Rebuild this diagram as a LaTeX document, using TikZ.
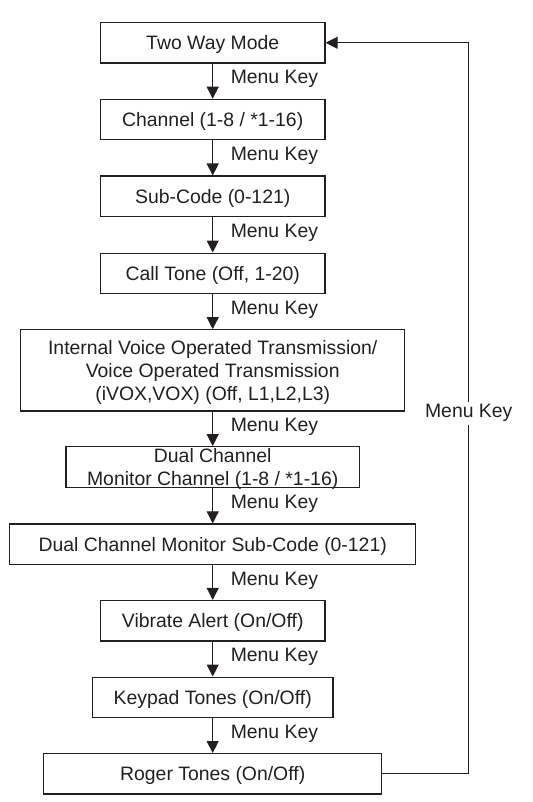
\documentclass[tikz,border=0pt]{standalone}
\usepackage{fontspec}
\setmainfont{Liberation Sans}
\usetikzlibrary{arrows.meta}
\definecolor{mkgray}{RGB}{35,31,32}
\newcommand{\topstrut}{\rule{0pt}{18.2pt}}
\tikzstyle{menubox} = [draw=mkgray, line width=1.2pt, text=mkgray, inner sep=0pt, minimum height=40.4pt, align=center, font=\fontsize{19.4}{23.4}\selectfont]
\tikzstyle{onebox} = [menubox, text height=18.2pt, text depth=4.1pt]
\tikzstyle{arrow} = [line width=1.1pt, draw=mkgray, -{Triangle[length=12pt,width=12pt]}]
\tikzstyle{keylabel} = [right=17.5pt, yshift=2pt, inner sep=0pt, text=mkgray, font=\fontsize{19.4}{23.4}\selectfont]

\begin{document}
\begin{tikzpicture}[x=1pt, y=-1pt]
\useasboundingbox (0,0) rectangle (532,802);

% Menu boxes
\node[onebox, minimum width=224.7pt] (twoway) at (212.7,42.8) {Two Way Mode};
\node[onebox, minimum width=224.7pt] (channel) at (212.7,119.5) {Channel (1-8 / *1-16)};
\node[onebox, minimum width=224.7pt] (subcode) at (212.7,196.3) {Sub-Code (0-121)};
\node[onebox, minimum width=224.7pt] (calltone) at (212.7,273.3) {Call Tone (Off, 1-20)};
\node[menubox, minimum width=384pt, minimum height=81.3pt] (vox) at (212.7,370.4)
  {\topstrut Internal Voice Operated Transmission/\\Voice Operated Transmission\\(iVOX,VOX) (Off, L1,L2,L3)};
% text runs over the frame here, so it goes in as a label
\node[menubox, minimum width=293.3pt, minimum height=40.6pt,
  label={[name=dualtext, yshift=-2pt, inner sep=0pt, align=center, text=mkgray, font=\fontsize{19.4}{23.4}\selectfont]center:Dual Channel\\Monitor Channel (1-8 / *1-16)}] (dualch) at (212.7,467) {};
\node[onebox, minimum width=406.3pt] (dualsub) at (212.7,544.2) {Dual Channel Monitor Sub-Code (0-121)};
\node[onebox, minimum width=224.7pt] (vibrate) at (212.7,620.7) {Vibrate Alert (On/Off)};
\node[onebox, minimum width=240.7pt] (keypad) at (212.7,697.3) {Keypad Tones (On/Off)};
\node[onebox, minimum width=338.3pt] (roger) at (212.7,773.8) {Roger Tones (On/Off)};

% Menu Key steps
\draw[arrow] (twoway) -- node[keylabel] {Menu Key} (channel);
\draw[arrow] (channel) -- node[keylabel] {Menu Key} (subcode);
\draw[arrow] (subcode) -- node[keylabel] {Menu Key} (calltone);
\draw[arrow] (calltone) -- node[keylabel] {Menu Key} (vox);
\draw[arrow] (vox) -- node[keylabel] {Menu Key} (dualch);
\draw[arrow] (dualch) -- node[keylabel] {Menu Key} (dualsub);
\draw[arrow] (dualsub) -- node[keylabel] {Menu Key} (vibrate);
\draw[arrow] (vibrate) -- node[keylabel] {Menu Key} (keypad);
\draw[arrow] (keypad) -- node[keylabel] {Menu Key} (roger);

% Back to the start
\draw[arrow] (roger.east) -- ++(86.3,0) |- node[pos=0.25, yshift=-5pt, fill=white, inner sep=3pt, text=mkgray, font=\fontsize{19.4}{23.4}\selectfont] {Menu Key} (twoway.east);
\end{tikzpicture}
\end{document}
